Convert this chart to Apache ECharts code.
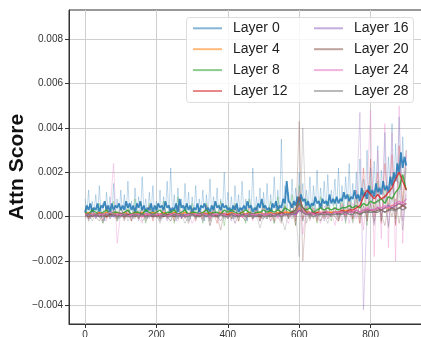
<!DOCTYPE html>
<html><head><meta charset="utf-8">
<script src="https://cdn.jsdelivr.net/npm/echarts@6/dist/echarts.min.js"></script>
<style>html,body{margin:0;padding:0;background:#fff}#c{width:421px;height:337px}</style>
</head><body><div id="c"></div>
<script>
// values are in units of 1e-4 (attention score)
const UNIT = 1e-4;
const BAND0_STEP = 5;   // x spacing of the dense trace of Layer 0
const BAND_STEP = 10;   // x spacing of the dense traces of other layers
const RAW0_STEP = 5;    // x spacing of the light raw trace of Layer 0
const RAW_STEP = 10;    // x spacing of the light raw traces of other layers

const layerNames = ['Layer 0','Layer 4','Layer 8','Layer 12','Layer 16','Layer 20','Layer 24','Layer 28'];
const layerColors = ['#1f77b4','#ff7f0e','#2ca02c','#d62728','#9467bd','#8c564b','#e377c2','#7f7f7f'];
const xTickValues = [0,200,400,600,800];
const xTickLabels = ['0','200','400','600','800'];
const yTickValues = [-0.004,-0.002,0,0.002,0.004,0.006,0.008];
const yTickLabels = ['\u22120.004','\u22120.002','0.000','0.002','0.004','0.006','0.008'];

const layer0Band = [2,5,3,6,2,4,3,6,2,5,4,7,3,5,2,6,3,5,4,6,3,
 5,3,7,4,6,3,5,2,6,4,7,3,5,2,4,3,6,2,5,3,
 6,4,5,3,7,4,5,2,4,3,6,2,8,4,5,3,6,3,5,2,
 4,3,6,2,5,4,6,3,4,2,5,3,7,4,5,3,6,4,5,3,
 4,2,5,3,6,2,4,3,5,3,7,4,5,2,4,3,6,4,8,4,
 5,3,4,2,6,4,7,3,5,4,8,6,16,7,6,4,7,5,9,6,
 10,7,8,5,7,4,6,5,9,6,7,4,8,6,7,5,10,6,8,6,
 9,6,8,7,11,8,10,7,9,8,12,8,10,7,13,9,11,8,14,10,
 12,9,15,11,13,10,16,12,14,11,18,14,20,16,24,20,29,22,27,23];
const layer0Raw = [8,1,12,-1,7,2,10,0,14,1,6,-2,11,2,9,0,15,1,8,-1,12,
 1,10,0,16,2,7,-1,13,1,9,0,18,2,8,-1,11,1,14,0,7,
 2,12,-1,9,1,16,0,22,1,10,-2,13,2,8,0,15,1,11,-1,9,
 1,14,0,8,2,12,-2,10,1,17,0,9,1,13,-1,8,2,20,0,11,
 1,9,-1,14,2,10,0,16,1,8,-2,12,1,22,0,9,2,13,-1,11,
 1,15,0,10,2,18,1,12,0,35,2,14,1,11,3,17,2,13,4,20,
 3,15,2,12,4,18,1,14,3,21,2,13,4,16,2,19,3,12,5,17,
 3,22,4,14,2,18,5,24,3,15,4,20,6,26,5,17,8,30,6,22,
 7,25,9,32,6,21,10,38,8,27,12,42,10,33,15,45,12,36,14,30];

const layer4Band = [1,2,1,1,2,1,2,1,1,2,1,
 2,1,1,2,1,2,1,1,2,1,
 1,2,1,1,2,1,1,2,1,2,
 1,1,2,1,2,1,1,2,1,1,
 2,1,1,2,1,2,1,1,2,1,
 1,2,1,2,1,2,2,1,2,4,
 3,2,2,1,2,2,1,2,2,2,
 2,2,3,2,2,3,2,3,3,3,
 3,4,3,4,4,5,5,6,5,6];

const layer8Band = [2,1,3,2,1,2,3,1,2,2,1,
 2,3,1,2,2,1,3,2,1,2,
 3,1,2,2,3,1,2,3,1,2,
 2,1,2,3,1,2,2,1,3,2,
 3,2,1,2,3,2,1,2,2,3,
 2,3,2,3,2,4,3,2,3,6,
 4,3,4,2,3,4,3,4,3,4,
 3,4,4,5,4,5,4,6,5,7,
 6,7,8,6,9,8,11,13,19,12];
const layer8Raw = [5,-2,4,-1,6,-3,3,0,7,-2,4,
 -1,5,-2,8,-1,4,-3,6,0,5,
 -2,7,-1,4,-3,9,-1,5,-2,6,
 -1,4,-3,6,-2,5,0,7,-4,5,
 -1,6,-2,4,-3,8,-1,5,-2,6,
 -1,7,-3,9,-2,6,-1,10,-4,14,
 -2,8,-1,6,-3,9,0,7,-2,8,
 -1,9,-3,10,-2,8,0,12,-4,14,
 2,16,-2,13,3,18,-1,20,5,22];

const layer12Band = [1,1,0,1,1,1,0,1,1,1,1,
 1,0,1,1,1,0,1,1,1,0,
 1,1,0,1,1,1,1,0,1,1,
 1,0,1,1,1,1,0,1,1,1,
 1,1,1,0,1,1,1,1,0,1,
 1,1,1,1,2,1,1,2,1,3,
 2,1,2,1,2,1,2,2,1,2,
 2,3,2,3,3,4,5,9,12,10,
 8,10,8,9,11,13,17,20,16,12];
const layer12Raw = [3,-1,4,0,2,-2,5,0,3,-1,4,
 0,3,-2,4,-1,2,0,5,-2,3,
 -1,4,0,3,-2,5,-1,2,0,4,
 -2,3,0,5,-1,2,-3,4,0,3,
 -1,5,-2,3,0,4,-1,3,-2,5,
 0,4,-2,5,-1,3,0,6,-2,9,
 -1,5,0,4,-2,6,-1,5,0,4,
 -2,6,0,8,-1,12,-3,22,-2,26,
 0,20,-3,24,2,28,-4,32,6,30];

const layer16Band = [1,1,1,0,1,1,1,1,0,1,1,
 1,1,0,1,1,1,1,1,0,1,
 1,0,1,1,1,1,0,1,1,1,
 1,1,1,0,1,1,1,1,1,0,
 1,1,0,1,1,1,1,0,1,1,
 1,1,1,1,1,1,1,1,1,3,
 2,1,1,2,1,1,2,1,1,2,
 1,2,2,2,2,3,2,3,3,3,
 3,4,3,4,5,4,5,6,5,6];
const layer16Raw = [2,-1,3,0,2,-2,4,-1,3,0,2,
 -1,3,0,2,-2,4,-1,3,0,2,
 -1,3,-2,2,0,4,-1,3,-2,2,
 0,3,-1,2,-2,4,0,3,-1,2,
 -2,3,0,4,-1,2,0,3,-2,4,
 -1,3,0,2,-2,4,-1,3,0,8,
 -2,4,0,3,-1,5,-2,3,0,4,
 -1,5,-2,6,0,4,47,-42,2,10,
 -3,12,0,10,-4,14,2,16,-2,12];

const layer20Band = [1,0,1,1,0,1,0,1,1,0,1,
 0,1,1,0,1,1,0,1,0,1,
 1,0,1,1,0,1,1,0,1,1,
 0,1,1,1,0,1,0,1,1,0,
 1,1,0,1,1,0,1,1,0,1,
 1,0,1,1,2,1,1,2,3,9,
 4,2,1,2,1,1,2,1,1,2,
 1,2,1,2,2,2,1,2,2,3,
 2,3,3,2,3,4,3,4,5,4];
const layer20Raw = [2,-1,3,0,-2,2,-1,3,0,-1,2,
 -2,3,0,2,-1,4,-2,1,0,3,
 -1,2,0,-2,3,-1,2,0,-3,2,
 0,3,-1,5,-4,3,0,-6,2,-1,
 2,-1,3,0,-2,2,-1,4,0,-1,
 3,-2,2,0,-3,5,-1,3,-4,43,
 -20,4,-1,2,0,-2,3,-1,2,0,
 -2,3,0,4,-1,2,-3,5,0,6,
 -2,5,1,-4,6,0,8,-3,7,4];

const layer24Band = [1,1,1,1,1,1,1,2,1,1,1,
 1,0,1,1,1,0,1,1,1,1,
 1,1,0,1,1,1,1,0,1,1,
 1,1,1,1,0,1,1,1,1,0,
 1,1,1,0,1,1,1,1,1,1,
 1,1,1,0,1,1,1,1,2,5,
 3,1,2,1,1,2,1,2,1,2,
 2,2,1,2,2,3,2,3,4,3,
 3,4,4,5,4,5,6,7,6,8];
const layer24Raw = [2,-2,3,-1,2,0,-2,3,24,-12,2,
 -1,3,-2,2,0,-3,4,-1,2,0,
 -2,3,-1,4,0,-2,3,-1,2,-3,
 0,2,-2,3,-1,4,0,-2,3,-1,
 2,-3,0,3,-1,2,-2,4,0,-1,
 3,-2,2,-1,4,0,-3,2,-1,12,
 -8,3,-2,4,0,-3,5,-1,3,-4,
 4,-2,5,-3,6,-1,8,-6,12,48,
 -18,30,-10,42,-14,38,-20,50,-12,28];

const layer28Band = [0,1,0,1,0,0,1,0,1,0,0,
 1,0,0,1,0,1,0,0,1,0,
 0,1,0,0,1,0,1,0,0,1,
 0,0,1,0,1,0,0,1,0,0,
 1,0,0,1,0,1,0,0,1,0,
 0,1,0,1,0,1,1,1,2,6,
 2,1,1,0,1,1,1,1,1,1,
 1,1,2,1,1,2,1,2,2,2,
 2,2,3,2,3,3,3,4,3,4];
const layer28Raw = [-1,2,-2,1,0,-3,2,-1,1,-2,0,
 2,-2,1,-1,3,-2,0,2,-1,1,
 -3,1,0,-2,2,-1,1,-3,0,2,
 -1,1,-2,2,-4,1,0,-2,1,-1,
 2,-3,1,0,-2,2,-1,1,-5,0,
 -1,2,-3,1,0,-6,2,-1,3,-18,
 40,-3,2,-1,4,-2,1,-3,2,0,
 -2,3,-1,4,-3,2,-1,5,-2,6,
 -4,8,-2,10,-5,9,-3,12,-6,10];

const bands = [layer0Band, layer4Band, layer8Band, layer12Band, layer16Band, layer20Band, layer24Band, layer28Band];
const bandSteps = [BAND0_STEP, BAND_STEP, BAND_STEP, BAND_STEP, BAND_STEP, BAND_STEP, BAND_STEP, BAND_STEP];
const raws = [layer0Raw, null, layer8Raw, layer12Raw, layer16Raw, layer20Raw, layer24Raw, layer28Raw];
const rawSteps = [RAW0_STEP, RAW_STEP, RAW_STEP, RAW_STEP, RAW_STEP, RAW_STEP, RAW_STEP, RAW_STEP];

function pairs(arr, step) { return arr.map((v, i) => [i * step, v * UNIT]); }

const FONT = 'Liberation Sans, Arial, sans-serif';
const series = [];
raws.forEach((r, k) => {
  if (!r) return;
  series.push({
    name: layerNames[k] + ' raw', type: 'line', data: pairs(r, rawSteps[k]),
    showSymbol: false, symbol: 'none', silent: true,
    lineStyle: { color: layerColors[k], width: 1, opacity: k === 0 ? 0.28 : 0.3 },
    z: 2
  });
});
bands.forEach((b, k) => {
  series.push({
    name: layerNames[k], type: 'line', data: pairs(b, bandSteps[k]),
    showSymbol: false, symbol: 'none', silent: true,
    lineStyle: { color: layerColors[k], width: k === 0 ? 1.8 : 1.4, opacity: 0.85 },
    itemStyle: { color: layerColors[k] },
    z: 3
  });
});

function yLabel(v) {
  for (let i = 0; i < yTickValues.length; i++) if (Math.abs(yTickValues[i] - v) < 1e-9) return yTickLabels[i];
  return '';
}
function xLabel(v) {
  for (let i = 0; i < xTickValues.length; i++) if (Math.abs(xTickValues[i] - v) < 1e-6) return xTickLabels[i];
  return '';
}

const legendCommon = {
  orient: 'vertical', top: 21.3, itemGap: 6.9, itemWidth: 29, itemHeight: 14, padding: 0,
  textStyle: { fontSize: 14, fontFamily: FONT, color: '#222', padding: [0, 0, 0, 6] },
  lineStyle: { width: 2, opacity: 0.55 },
  itemStyle: { opacity: 0 },
  z: 6
};

const chart = echarts.init(document.getElementById('c'), null, { renderer: 'canvas' });
chart.setOption({
  animation: false,
  backgroundColor: '#fff',
  grid: { left: 69, top: 10, width: 353, height: 314, show: true, borderColor: '#333', borderWidth: 1, containLabel: false, outerBoundsMode: 'none' },
  xAxis: {
    type: 'value', min: -45, max: 944,
    axisLine: { show: true, onZero: false, lineStyle: { color: '#333', width: 1 } },
    axisTick: { show: true, length: 4, lineStyle: { color: '#333' }, customValues: xTickValues },
    axisLabel: { customValues: xTickValues, formatter: xLabel, fontSize: 10, fontFamily: FONT, color: '#333', margin: 6 },
    splitLine: { show: true, lineStyle: { color: '#cfcfcf', width: 1 } }
  },
  yAxis: {
    type: 'value', min: -0.00484, max: 0.00932,
    name: 'Attn Score', nameLocation: 'middle', nameGap: 41, nameMoveOverlap: false,
    nameTextStyle: { fontSize: 21, fontWeight: 'bold', fontFamily: FONT, color: '#111' },
    axisLine: { show: true, onZero: false, lineStyle: { color: '#333', width: 1 } },
    axisTick: { show: true, length: 4, lineStyle: { color: '#333' }, customValues: yTickValues },
    axisLabel: { customValues: yTickValues, formatter: yLabel, fontSize: 10, fontFamily: FONT, color: '#333', margin: 6 },
    splitLine: { show: true, lineStyle: { color: '#cfcfcf', width: 1 } }
  },
  graphic: [{
    type: 'rect', left: 186, top: 17, z: 5,
    shape: { width: 227, height: 85, r: 3 },
    style: { fill: 'rgba(255,255,255,0.82)', stroke: '#dddddd', lineWidth: 1 }
  }],
  legend: [
    Object.assign({}, legendCommon, { left: 192, data: layerNames.slice(0, 4) }),
    Object.assign({}, legendCommon, { left: 313, data: layerNames.slice(4) })
  ],
  series: series
});
</script></body></html>
